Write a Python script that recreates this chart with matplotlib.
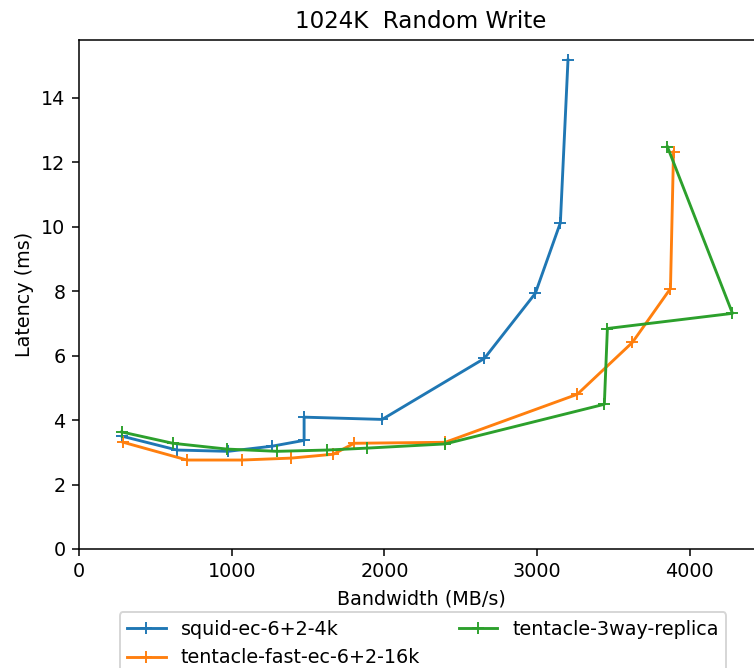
import matplotlib
matplotlib.use("Agg")
import matplotlib.pyplot as plt
from matplotlib.ticker import MultipleLocator

title = "1024K  Random Write"
x_label = "Bandwidth (MB/s)"
y_label = "Latency (ms)"

series_names = ["squid-ec-6+2-4k", "tentacle-fast-ec-6+2-16k", "tentacle-3way-replica"]

squid_bw = [282, 642, 976, 1265, 1474, 1474, 1985, 2654, 2988, 3152, 3202]
squid_lat = [3.50, 3.07, 3.03, 3.19, 3.37, 4.09, 4.02, 5.91, 7.93, 10.12, 15.17]

fast_bw = [290, 708, 1068, 1390, 1665, 1802, 2398, 3263, 3624, 3873, 3893]
fast_lat = [3.31, 2.76, 2.76, 2.82, 2.94, 3.28, 3.31, 4.80, 6.41, 8.08, 12.32]

rep_bw = [280, 614, 968, 1297, 1625, 1887, 2398, 3440, 3460, 4279, 3853]
rep_lat = [3.63, 3.28, 3.10, 3.03, 3.07, 3.13, 3.26, 4.49, 6.84, 7.31, 12.48]

dpi = 138
fig = plt.figure(figsize=(754 / dpi, 668 / dpi), dpi=dpi)
W, H = 754, 668
ax = fig.add_axes([79 / W, (H - 549) / H, (763 - 79) / W, (549 - 40) / H])

ax.plot(squid_bw, squid_lat, marker="+", label=series_names[0])
ax.plot(fast_bw, fast_lat, marker="+", label=series_names[1])
ax.plot(rep_bw, rep_lat, marker="+", label=series_names[2])

ax.set_xlim(left=0)
ax.set_ylim(bottom=0)
ax.xaxis.set_major_locator(MultipleLocator(1000))
ax.set_title(title)
ax.set_xlabel(x_label)
ax.set_ylabel(y_label)

ax.legend(loc="upper center", bbox_to_anchor=(423 / W, 1 - 612 / H),
          bbox_transform=fig.transFigure, ncol=2, borderaxespad=0)

fig.savefig("out.png", dpi=dpi)
